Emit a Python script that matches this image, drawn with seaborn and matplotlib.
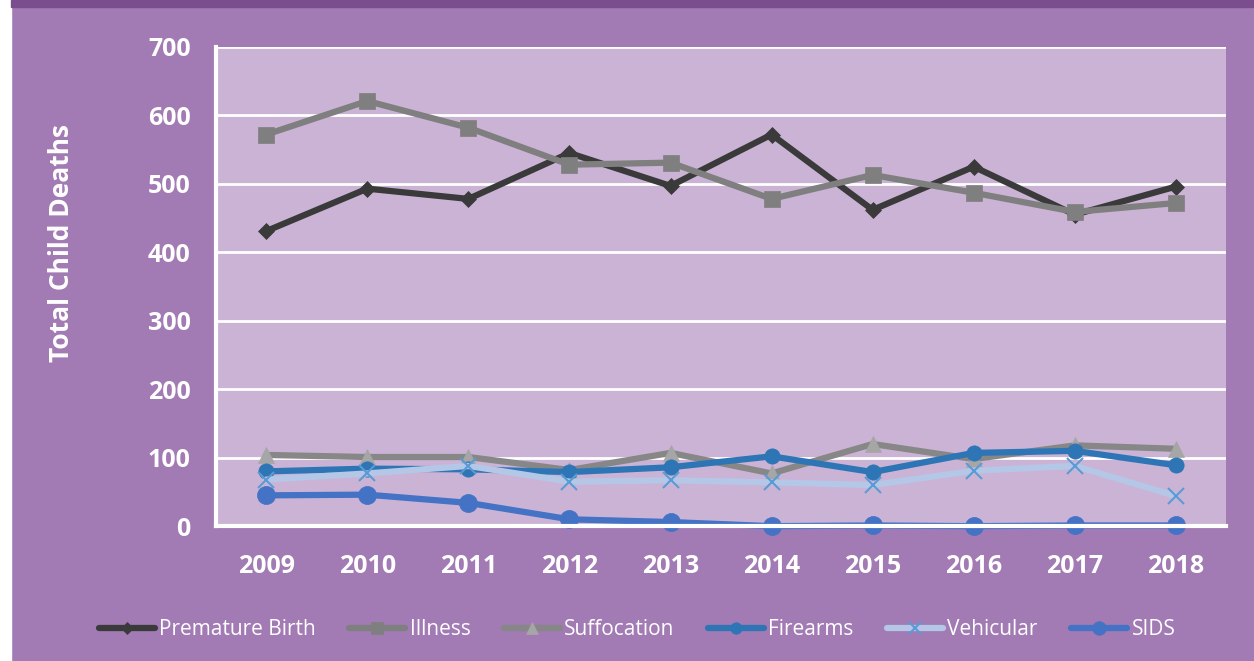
import numpy as np
import pandas as pd
import matplotlib.pyplot as plt
import matplotlib.patches as mpatches
import seaborn as sns

# Data
years = ['2009', '2010', '2011', '2012', '2013', '2014', '2015', '2016', '2017', '2018']
premature_birth = [431, 493, 478, 545, 497, 572, 462, 525, 455, 496]
illness = [572, 621, 582, 528, 531, 478, 513, 487, 459, 472]
suffocation = [104, 101, 101, 82, 107, 77, 120, 98, 118, 113]
firearms = [80, 84, 83, 79, 86, 102, 79, 107, 110, 89]
vehicular = [68, 77, 88, 65, 67, 64, 60, 81, 88, 44]
sids = [45, 46, 34, 10, 6, 0, 1, 0, 1, 1]

series = {
    'Premature Birth': premature_birth,
    'Illness': illness,
    'Suffocation': suffocation,
    'Firearms': firearms,
    'Vehicular': vehicular,
    'SIDS': sids,
}

# line colour, marker, marker colour, marker size
styles = {
    'Premature Birth': ('#3a3a3a', 'D', '#3a3a3a', 8),
    'Illness': ('#7f7f7f', 's', '#7f7f7f', 11),
    'Suffocation': ('#878787', '^', '#a6a6a6', 12),
    'Firearms': ('#2e75b6', 'o', '#2e75b6', 11),
    'Vehicular': ('#b4c7e7', 'x', '#5b9bd5', 11),
    'SIDS': ('#4472c4', 'o', '#4472c4', 13),
}

bg = '#a27ab4'
plot_bg = '#cbb3d6'

sns.set_theme(style='white')
plt.rcParams['font.family'] = ['Open Sans', 'DejaVu Sans']

fig, ax = plt.subplots(figsize=(12.54, 6.61), dpi=100)
fig.patch.set_facecolor(bg)
ax.set_facecolor(plot_bg)
fig.subplots_adjust(left=0.172, right=0.978, top=0.929, bottom=0.204)

# white strip on the left and dark band at the top
fig.patches.append(mpatches.Rectangle((0, 0), 11 / 1254, 1, transform=fig.transFigure,
                                      color='white', zorder=0))
fig.patches.append(mpatches.Rectangle((11 / 1254, 1 - 7 / 661), 1, 7 / 661,
                                      transform=fig.transFigure, color='#7a4d8e', zorder=0))

xpos = np.arange(len(years))
for name, vals in series.items():
    lc, mk, mc, ms = styles[name]
    df = pd.DataFrame({'x': xpos, 'y': vals})
    sns.lineplot(data=df, x='x', y='y', ax=ax, color=lc, linewidth=4.5,
                 marker=mk, markersize=ms, markerfacecolor=mc, markeredgecolor=mc,
                 markeredgewidth=1.5 if mk == 'x' else 0.5, label=name, clip_on=False)

ax.set_xlim(-0.5, len(years) - 0.5)
ax.set_ylim(0, 700)
ax.set_yticks(range(0, 701, 100))
ax.set_xticks(xpos)
ax.set_xticklabels(years)
ax.grid(axis='y', color='white', linewidth=2)
ax.set_axisbelow(True)
for s in ['top', 'right']:
    ax.spines[s].set_visible(False)
ax.spines['left'].set_color('white')
ax.spines['left'].set_linewidth(3)
ax.spines['bottom'].set_color('white')
ax.spines['bottom'].set_linewidth(3)

ax.tick_params(axis='both', colors='white', labelsize=18, length=0)
ax.tick_params(axis='y', pad=18)
ax.tick_params(axis='x', pad=20)
for lab in ax.get_xticklabels() + ax.get_yticklabels():
    lab.set_fontweight('bold')
ax.set_xlabel('')
ax.set_ylabel('')
fig.text(62 / 1254, 1 - 243 / 661, 'Total Child Deaths', color='white', fontsize=19,
         fontweight='bold', rotation=90, ha='center', va='center')

ax.legend_.remove()
handles, labels = ax.get_legend_handles_labels()
leg = fig.legend(handles, labels, loc='center', bbox_to_anchor=(0.508, 0.047), ncol=6,
                 frameon=False, fontsize=15, handlelength=2.7, handletextpad=0.2,
                 columnspacing=1.6, labelcolor='white', markerscale=0.75)

fig.savefig('out.png', dpi=100, facecolor=fig.get_facecolor())
